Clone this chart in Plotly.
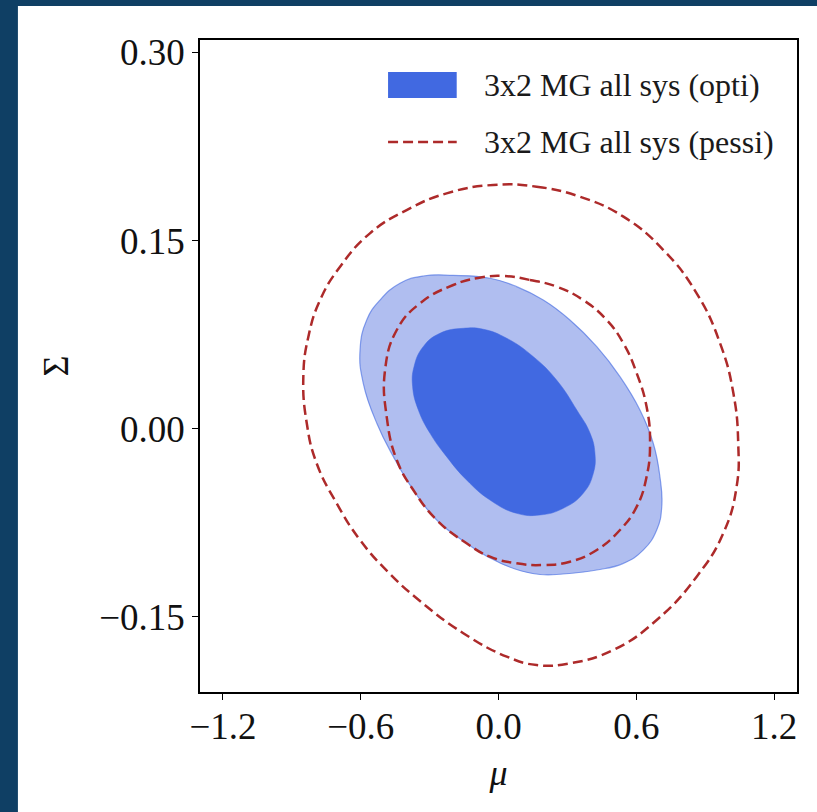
import plotly.graph_objects as go

# ---------------- data ----------------
opti_2s_mu = [-0.328, -0.197, -0.037, 0.079, 0.195, 0.311, 0.428, 0.529, 0.616, 0.674,
              0.703, 0.711, 0.689, 0.631, 0.544, 0.428, 0.281, 0.181, 0.072, -0.037,
              -0.139, -0.269, -0.371, -0.458, -0.530, -0.589, -0.603, -0.574, -0.516, -0.429]
opti_2s_sig = [0.1218, 0.1223, 0.1200, 0.1133, 0.1026, 0.0867, 0.0654, 0.0415, 0.0149, -0.0116,
               -0.0383, -0.0622, -0.0808, -0.0967, -0.1074, -0.1127, -0.1159, -0.1163, -0.1119, -0.1031,
               -0.0914, -0.0728, -0.0489, -0.0223, 0.0043, 0.0362, 0.0628, 0.0867, 0.1026, 0.1160]

opti_1s_mu = [-0.153, -0.255, -0.328, -0.368, -0.374, -0.349, -0.298, -0.226, -0.139, -0.037,
              0.079, 0.181, 0.282, 0.369, 0.413, 0.420, 0.399, 0.341, 0.253, 0.152,
              0.036, -0.066]
opti_1s_sig = [0.0801, 0.0761, 0.0654, 0.0494, 0.0335, 0.0149, -0.0037, -0.0223, -0.0409, -0.0569,
               -0.0675, -0.0688, -0.0635, -0.0515, -0.0356, -0.0196, -0.0037, 0.0149, 0.0388, 0.0574,
               0.0721, 0.0793]

pessi_1s_mu = [0.021, 0.137, 0.253, 0.369, 0.471, 0.544, 0.602, 0.645, 0.660, 0.645,
               0.602, 0.529, 0.428, 0.311, 0.195, 0.079, -0.037, -0.139, -0.269, -0.371,
               -0.443, -0.487, -0.494, -0.443, -0.342, -0.197, -0.089]
pessi_1s_sig = [0.1218, 0.1186, 0.1133, 0.1026, 0.0867, 0.0681, 0.0442, 0.0175, -0.0116, -0.0383,
                -0.0622, -0.0808, -0.0967, -0.1061, -0.1087, -0.1074, -0.1021, -0.0914, -0.0728, -0.0489,
                -0.0250, 0.0096, 0.0468, 0.0787, 0.1000, 0.1146, 0.1202]

pessi_2s_mu = [-0.023, 0.166, 0.355, 0.544, 0.718, 0.863, 0.965, 1.023, 1.044, 1.037,
               0.979, 0.863, 0.689, 0.500, 0.311, 0.166, 0.036, -0.155, -0.342, -0.481,
               -0.603, -0.705, -0.792, -0.835, -0.850, -0.828, -0.777, -0.690, -0.560, -0.400,
               -0.226]
pessi_2s_sig = [0.1944, 0.1930, 0.1850, 0.1691, 0.1425, 0.1080, 0.0681, 0.0282, -0.0116, -0.0463,
                -0.0834, -0.1180, -0.1526, -0.1765, -0.1871, -0.1885, -0.1818, -0.1629, -0.1374, -0.1143,
                -0.0888, -0.0595, -0.0276, 0.0043, 0.0415, 0.0734, 0.1026, 0.1292, 0.1558, 0.1744,
                0.1877]

x_tickvals = [-1.2, -0.6, 0.0, 0.6, 1.2]
x_ticktext = ["\u22121.2", "\u22120.6", "0.0", "0.6", "1.2"]
y_tickvals = [0.30, 0.15, 0.00, -0.15]
y_ticktext = ["0.30", "0.15", "0.00", "\u22120.15"]

legend_labels = ["3x2 MG all sys (opti)", "3x2 MG all sys (pessi)"]


def closed(a):
    return list(a) + [a[0]]


FONT = "Liberation Serif, Times New Roman, serif"
ROYAL = "#4169E1"
LIGHT = "#b0bef0"
RED = "#ad2a2a"
DASH = "10px,5px"

fig = go.Figure()

fig.add_trace(go.Scatter(x=closed(opti_2s_mu), y=closed(opti_2s_sig), mode="lines",
                         line=dict(color="rgba(65,105,225,0.6)", width=1.2, shape="spline", smoothing=1.3),
                         fill="toself", fillcolor=LIGHT, showlegend=False, hoverinfo="skip"))
fig.add_trace(go.Scatter(x=closed(opti_1s_mu), y=closed(opti_1s_sig), mode="lines",
                         line=dict(color=ROYAL, width=0.5, shape="spline", smoothing=1.3),
                         fill="toself", fillcolor=ROYAL, showlegend=False, hoverinfo="skip"))
for mu, sig in [(pessi_1s_mu, pessi_1s_sig), (pessi_2s_mu, pessi_2s_sig)]:
    fig.add_trace(go.Scatter(x=closed(mu), y=closed(sig), mode="lines",
                             line=dict(color=RED, width=2.5, dash=DASH, shape="spline", smoothing=1.3),
                             fill="toself", fillcolor="rgba(0,0,0,0)",
                             showlegend=False, hoverinfo="skip"))

# white panel over the dark frame
fig.add_shape(type="rect", xref="paper", yref="paper", x0=-0.305, x1=1.2, y0=-0.4, y1=1.052,
              fillcolor="white", line=dict(width=0), layer="below")

# manual legend (matplotlib style)
fig.add_shape(type="rect", xref="paper", yref="paper", x0=0.315, x1=0.430, y0=0.911, y1=0.951,
              fillcolor=ROYAL, line=dict(width=0))
fig.add_shape(type="line", xref="paper", yref="paper", x0=0.315, x1=0.430, y0=0.8436, y1=0.8436,
              line=dict(color=RED, width=2.5, dash=DASH))
for yy, lab in zip([0.931, 0.8436], legend_labels):
    fig.add_annotation(xref="paper", yref="paper", x=0.472, y=yy, text=lab, showarrow=False,
                       xanchor="left", yanchor="middle", font=dict(family=FONT, size=32, color="#1a1a1a"))

axis_common = dict(showline=True, linecolor="black", linewidth=1.6, mirror=True,
                   ticks="outside", ticklen=6, tickwidth=1.2, tickcolor="black",
                   showgrid=False, zeroline=False,
                   tickfont=dict(family=FONT, size=37, color="#111"))

fig.update_layout(
    width=817, height=812,
    margin=dict(l=200, r=20, t=40, b=120),
    paper_bgcolor="#0f3f64",
    plot_bgcolor="white",
    xaxis=dict(range=[-1.3, 1.3], tickvals=x_tickvals, ticktext=x_ticktext,
               ticklabelstandoff=-5,
               title=dict(text="<i>\u03bc</i>", font=dict(family=FONT, size=36, color="#111"), standoff=14),
               **axis_common),
    yaxis=dict(range=[-0.21, 0.31], tickvals=y_tickvals, ticktext=y_ticktext,
               title=dict(text="\u03a3", font=dict(family=FONT, size=36, color="#111"), standoff=20),
               **axis_common),
)

fig.write_html("out.html")
